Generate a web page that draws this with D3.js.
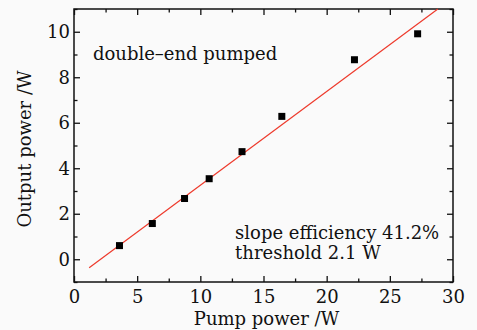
<!DOCTYPE html>
<html>
<head>
<meta charset="utf-8">
<script src="https://cdn.jsdelivr.net/npm/d3@7"></script>
<style>
  body { margin: 0; background: #fafafa; }
  text { font-family: "DejaVu Serif", "Liberation Serif", serif; fill: #111; }
</style>
</head>
<body>
<div id="chart"></div>
<script>
// measured points
const pumpPower = [3.6, 6.2, 8.75, 10.7, 13.3, 16.45, 22.2, 27.2];
const outputPower = [0.6, 1.57, 2.67, 3.54, 4.73, 6.28, 8.77, 9.91];

// linear fit endpoints (slope 41.2%, threshold 2.1 W)
const fitX = [1.2, 28.8];
const fitY = [-0.37, 11];

const xTicks = [0, 5, 10, 15, 20, 25, 30];
const yTicks = [0, 2, 4, 6, 8, 10];

const svgWidth = 477;
const svgHeight = 330;

const margin = { top: 9, right: 24, bottom: 48, left: 74 };
const width = svgWidth - margin.left - margin.right;
const height = svgHeight - margin.top - margin.bottom;

const svg = d3.select("#chart")
  .append("svg")
  .attr("width", svgWidth)
  .attr("height", svgHeight);

svg.append("rect")
  .attr("width", svgWidth)
  .attr("height", svgHeight)
  .attr("fill", "#fafafa");

const chartGroup = svg.append("g")
  .attr("transform", `translate(${margin.left}, ${margin.top})`);

const x = d3.scaleLinear().domain([0, 30]).range([0, width]);
const y = d3.scaleLinear().domain([-1, 11]).range([height, 0]);

// minor ticks
const xMinor = d3.range(2.5, 30, 5);
const yMinor = d3.range(-1, 11.01, 2);

function styleAxis(g) {
  g.select(".domain").remove();
  g.selectAll("line").attr("stroke", "#111").attr("stroke-width", 1.3);
  g.selectAll("text").style("font-size", "18px");
}

// bottom
chartGroup.append("g")
  .attr("transform", `translate(0, ${height})`)
  .call(d3.axisBottom(x).tickValues(xTicks).tickSize(-6).tickPadding(8).tickFormat(d3.format("d")))
  .call(styleAxis);
chartGroup.append("g")
  .attr("transform", `translate(0, ${height})`)
  .call(d3.axisBottom(x).tickValues(xMinor).tickSize(-3.5).tickFormat(""))
  .call(styleAxis);
// top
chartGroup.append("g")
  .call(d3.axisTop(x).tickValues(xTicks).tickSize(-6).tickFormat(""))
  .call(styleAxis);
chartGroup.append("g")
  .call(d3.axisTop(x).tickValues(xMinor).tickSize(-3.5).tickFormat(""))
  .call(styleAxis);
// left
chartGroup.append("g")
  .call(d3.axisLeft(y).tickValues(yTicks).tickSize(-6).tickPadding(4).tickFormat(d3.format("d")))
  .call(styleAxis);
chartGroup.append("g")
  .call(d3.axisLeft(y).tickValues(yMinor).tickSize(-3.5).tickFormat(""))
  .call(styleAxis);
// right
chartGroup.append("g")
  .attr("transform", `translate(${width}, 0)`)
  .call(d3.axisRight(y).tickValues(yTicks).tickSize(-6).tickFormat(""))
  .call(styleAxis);
chartGroup.append("g")
  .attr("transform", `translate(${width}, 0)`)
  .call(d3.axisRight(y).tickValues(yMinor).tickSize(-3.5).tickFormat(""))
  .call(styleAxis);

// frame
chartGroup.append("rect")
  .attr("width", width)
  .attr("height", height)
  .attr("fill", "none")
  .attr("stroke", "#111")
  .attr("stroke-width", 1.5);

// fit line
chartGroup.append("line")
  .attr("x1", x(fitX[0]))
  .attr("y1", y(fitY[0]))
  .attr("x2", x(fitX[1]))
  .attr("y2", y(fitY[1]))
  .attr("stroke", "#ee3a2c")
  .attr("stroke-width", 1.2);

// markers
const pts = pumpPower.map((p, i) => ({ p: p, o: outputPower[i] }));
chartGroup.selectAll(".pt")
  .data(pts)
  .enter()
  .append("rect")
  .attr("class", "pt")
  .attr("x", d => x(d.p) - 3.5)
  .attr("y", d => y(d.o) - 3.5)
  .attr("width", 7)
  .attr("height", 7)
  .attr("fill", "#000");

// annotations
chartGroup.append("text")
  .attr("x", x(1.5))
  .attr("y", y(8.76))
  .style("font-size", "18px")
  .text("double\u2013end pumped");

chartGroup.append("text")
  .attr("x", x(12.75))
  .attr("y", y(0.9))
  .style("font-size", "18px")
  .text("slope efficiency 41.2%");

chartGroup.append("text")
  .attr("x", x(12.75))
  .attr("y", y(0.02))
  .style("font-size", "18px")
  .text("threshold 2.1 W");

// axis titles
svg.append("text")
  .attr("x", margin.left + width / 2 + 3)
  .attr("y", svgHeight - 5)
  .attr("text-anchor", "middle")
  .style("font-size", "18px")
  .text("Pump power /W");

svg.append("text")
  .attr("transform", "rotate(-90)")
  .attr("x", -149)
  .attr("y", 31)
  .attr("text-anchor", "middle")
  .style("font-size", "18px")
  .text("Output power /W");
</script>
</body>
</html>
